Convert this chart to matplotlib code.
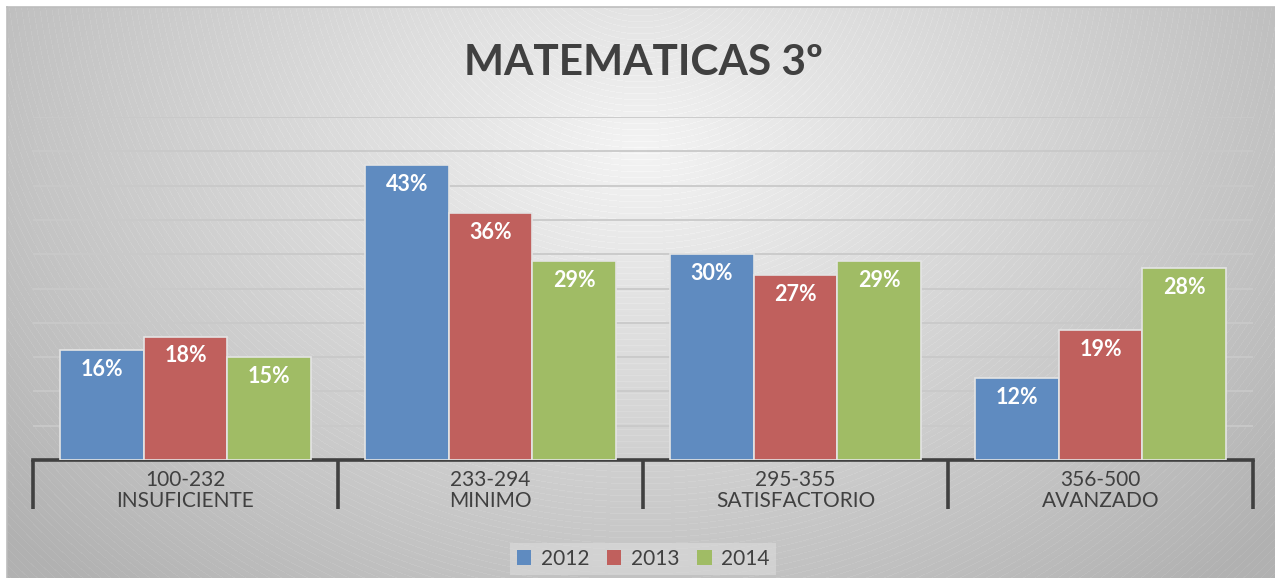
import numpy as np
import matplotlib
matplotlib.use('Agg')
import matplotlib.pyplot as plt
from matplotlib.patches import Patch

plt.rcParams['font.family'] = ['Lato', 'DejaVu Sans']

# data
categories = ['100-232\nINSUFICIENTE', '233-294\nMINIMO', '295-355\nSATISFACTORIO', '356-500\nAVANZADO']
years = ['2012', '2013', '2014']
v2012 = [16, 43, 30, 12]
v2013 = [18, 36, 27, 19]
v2014 = [15, 29, 29, 28]
colors = ['#5F8BC0', '#C0605D', '#A0BC65']

W, H = 1275, 578
fig = plt.figure(figsize=(W / 100, H / 100), dpi=100)
fig.patch.set_facecolor('white')

# background: radial gray gradient with faint concentric arcs
bg = fig.add_axes([7 / W, 0, (W - 7) / W, (H - 7) / H])
bg.set_axis_off()
yy, xx = np.mgrid[0:H - 7, 0:W - 7]
px = xx + 7
py = yy + 7
d = np.sqrt(((px - 640) / 700.0) ** 2 + ((py - 150) / 480.0) ** 2)
g = 0.955 - 0.215 * np.clip(d, 0, 1.2)
r = np.hypot(px - 640, py + 75)
g = g + 0.02 * (np.mod(r, 6.0) < 0.8)
g = np.clip(g, 0, 1)
bg.imshow(np.dstack([g, g, g]), aspect='auto', interpolation='bilinear')
# thin border on top/left
fig.add_artist(plt.Line2D([7 / W, 1], [1 - 7 / H, 1 - 7 / H], color='#bdbdbd', lw=1.2))
fig.add_artist(plt.Line2D([7 / W, 7 / W], [0, 1 - 7 / H], color='#bdbdbd', lw=1.2))

ax = fig.add_axes([33 / W, (H - 460) / H, (1253 - 33) / W, (460 - 117) / H])
ax.patch.set_alpha(0)
x = np.arange(len(categories))
w = 0.274
for i, (vals, c) in enumerate(zip([v2012, v2013, v2014], colors)):
    bars = ax.bar(x + (i - 1) * w, vals, w, color=c, edgecolor='#e4e4e4', linewidth=1.2, zorder=3)
    for b, v in zip(bars, vals):
        ax.annotate(f'{v}%', (b.get_x() + b.get_width() / 2, v), xytext=(0, -14),
                    textcoords='offset points', ha='center', va='center',
                    color='white', fontsize=15.5, fontweight='bold', zorder=4)

ax.set_xlim(-0.5, 3.5)
ax.set_ylim(0, 50)
ax.set_yticks(np.arange(5, 55, 5))
ax.yaxis.grid(True, color='#c9c9c9', lw=1.3, zorder=0)
ax.tick_params(axis='y', left=False, labelleft=False)
for s in ['top', 'right', 'left']:
    ax.spines[s].set_visible(False)
ax.spines['bottom'].set_color('#404040')
ax.spines['bottom'].set_linewidth(2.6)

ax.set_xticks(x)
ax.set_xticklabels(categories, fontsize=15, color='#404040', linespacing=1.1)
ax.tick_params(axis='x', which='major', length=0, pad=7)
ax.set_xticks(np.arange(-0.5, 4, 1), minor=True)
ax.tick_params(axis='x', which='minor', length=35, width=2.6, color='#404040', direction='out')

fig.text(643 / W, 1 - 63 / H, 'MATEMATICAS 3º', ha='center', va='center',
         fontsize=30.5, fontweight='bold', color='#404040')

handles = [Patch(facecolor=c, edgecolor='none') for c in colors]
leg = fig.legend(handles, years, loc='center', bbox_to_anchor=(643 / W, 1 - 559 / H), ncol=3,
                 frameon=True, fontsize=15, handlelength=0.7, handleheight=0.7,
                 handletextpad=0.45, columnspacing=0.85, borderpad=0.3, fancybox=False)
leg.get_frame().set_facecolor('#dcdcdc')
leg.get_frame().set_edgecolor('none')
leg.get_frame().set_alpha(0.6)
for t in leg.get_texts():
    t.set_color('#404040')

fig.savefig('out.png', dpi=100)
